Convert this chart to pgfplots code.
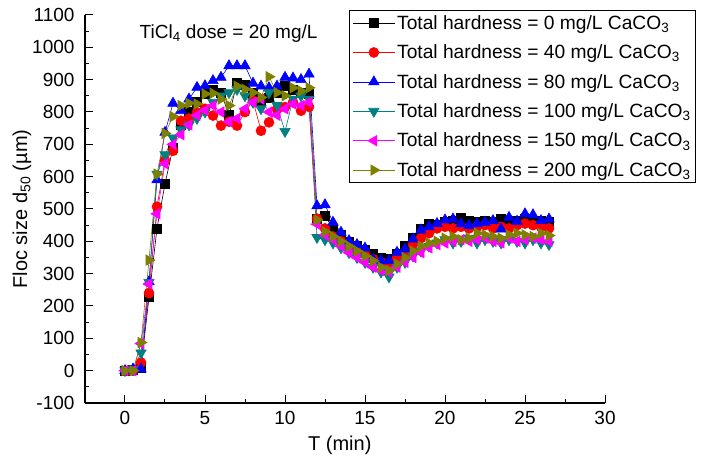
\documentclass[border=0pt]{standalone}
\usepackage{fontspec}
\setmainfont{Liberation Sans}
\usepackage{pgfplots}
\usepackage{pgfplotstable}
\pgfplotsset{compat=1.18}

\definecolor{cteal}{RGB}{0,128,128}
\definecolor{colive}{RGB}{128,128,0}
\definecolor{cmag}{RGB}{255,0,255}

% T (min), floc size d50 for hardness 0/40/80/100/150/200 mg/L CaCO3
\pgfplotstableread{
T     h0   h40  h80  h100 h150 h200
0.0   0    0    0    0    0    0
0.5   2    0    5    3    0    0
1.0   10   25   5    55   84   87
1.5   227  240  275  273  268  342
2.0   440  507  590  608  485  608
2.5   578  650  737  668  640  734
3.0   690  680  827  720  700  786
3.5   760  773  804  745  730  820
4.0   800  780  840  760  760  827
4.5   830  799  876  780  790  825
5.0   855  810  881  800  805  856
5.5   870  789  897  830  820  858
6.0   860  758  907  850  800  840
6.5   790  770  943  860  770  820
7.0   890  758  943  870  780  880
7.5   885  800  943  850  810  870
8.0   860  835  889  830  830  860
8.5   830  742  880  810  840  845
9.0   845  768  875  860  800  909
9.5   860  809  880  820  790  860
10.0  880  815  907  740  810  850
10.5  870  830  905  840  825  875
11.0  860  804  900  850  820  865
11.5  855  816  917  840  830  875
12.0  470  470  510  412  453  466
12.5  479  440  513  405  420  430
13.0  440  415  459  395  405  415
13.5  420  400  428  380  385  400
14.0  400  385  402  365  365  385
14.5  385  370  390  350  350  370
15.0  375  360  379  335  335  355
15.5  360  345  345  320  320  340
16.0  350  335  340  305  310  320
16.5  345  330  340  290  305  310
17.0  360  350  366  320  320  330
17.5  385  365  376  335  335  350
18.0  410  390  407  355  350  370
18.5  440  410  435  370  365  385
19.0  455  425  445  385  380  395
19.5  450  440  455  395  390  400
20.0  460  445  466  405  395  410
20.5  465  440  469  395  400  415
21.0  474  445  454  400  405  405
21.5  465  440  449  410  400  410
22.0  460  445  454  395  405  425
22.5  465  450  459  405  410  420
23.0  460  440  464  400  400  415
23.5  470  445  438  395  395  410
24.0  455  440  474  405  410  420
24.5  465  450  462  400  400  425
25.0  470  455  485  395  405  420
25.5  460  450  482  405  410  415
26.0  465  445  464  395  405  425
26.5  460  440  469  390  400  418
}\floc

\begin{document}
\begin{tikzpicture}
\begin{axis}[
  name=ax,
  scale only axis, width=520pt, height=388pt,
  xmin=-2.5, xmax=30, ymin=-100, ymax=1100,
  axis x line*=bottom, axis y line*=left,
  axis line style={line width=1.1pt},
  xtick={0,5,...,30}, ytick={-100,0,...,1100},
  minor x tick num=1, minor y tick num=1,
  tick align=inside,
  major tick length=8pt, minor tick length=4pt,
  tick style={black, line width=1pt},
  /pgf/number format/assume math mode=true,
  /pgf/number format/1000 sep={},
  tick label style={font=\fontsize{19}{21}\selectfont},
  xticklabel style={yshift=-5pt},
  yticklabel style={xshift=-7pt},
  label style={font=\fontsize{20}{23}\selectfont},
  xlabel={T (min)},
  ylabel={Floc size d\textsubscript{50} (µm)},
  xlabel style={at={(axis description cs:0.49,-0.108)}, anchor=center},
  ylabel style={at={(axis description cs:-0.121,0.5)}, anchor=center},
  legend style={font=\fontsize{19.2}{22}\selectfont, draw=black, line width=0.8pt,
    at={(rel axis cs:0.508,1.013)}, anchor=north west,
    cells={anchor=west}, inner xsep=3pt, inner ysep=3pt,
    row sep=10pt},
  legend image code/.code={
    \draw[line width=0.6pt, mark repeat=2, mark phase=2]
      plot coordinates {(0pt,0pt) (21pt,0pt) (42pt,0pt)};},
  every axis plot/.append style={line width=0.6pt},
]
\addplot[black, mark=square*, mark size=4.5pt] table[x=T, y=h0] {\floc};
\addlegendentry{Total hardness = 0 mg/L CaCO\textsubscript{3}}
\addplot[red, mark=*, mark size=5pt] table[x=T, y=h40] {\floc};
\addlegendentry{Total hardness = 40 mg/L CaCO\textsubscript{3}}
\addplot[blue, mark=triangle*, mark size=6pt] table[x=T, y=h80] {\floc};
\addlegendentry{Total hardness = 80 mg/L CaCO\textsubscript{3}}
\addplot[cteal, mark=triangle*, mark size=6pt, mark options={rotate=180}] table[x=T, y=h100] {\floc};
\addlegendentry{Total hardness = 100 mg/L CaCO\textsubscript{3}}
\addplot[cmag, mark=triangle*, mark size=6pt, mark options={rotate=90}] table[x=T, y=h150] {\floc};
\addlegendentry{Total hardness = 150 mg/L CaCO\textsubscript{3}}
\addplot[colive, mark=triangle*, mark size=6pt, mark options={rotate=270}] table[x=T, y=h200] {\floc};
\addlegendentry{Total hardness = 200 mg/L CaCO\textsubscript{3}}
\node[anchor=west, font=\fontsize{19}{22}\selectfont] at (axis cs:0.7,1043) {TiCl\textsubscript{4} dose = 20 mg/L};
\end{axis}
\pgfresetboundingbox
\path ([xshift=-85pt, yshift=-63pt]ax.south west) rectangle ([xshift=103pt, yshift=15pt]ax.north east);
\end{tikzpicture}
\end{document}
